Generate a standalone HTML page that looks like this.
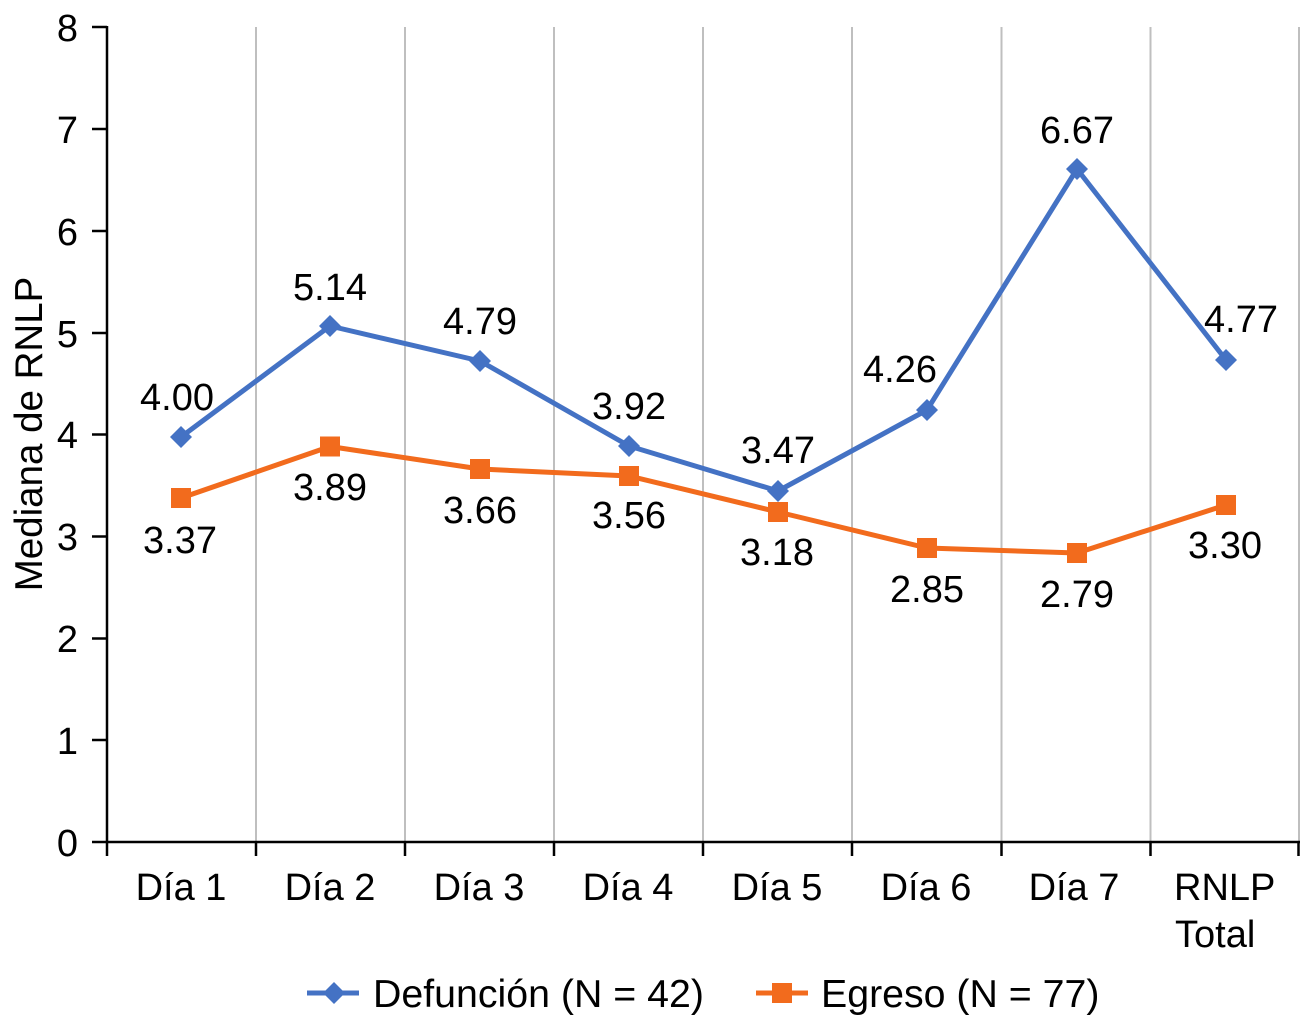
<!DOCTYPE html>
<html><head><meta charset="utf-8"><style>
html,body{margin:0;padding:0;background:#fff;}
svg{display:block;font-family:"Liberation Sans",Arial,Helvetica,sans-serif;}
</style></head><body>
<svg width="1301" height="1024" viewBox="0 0 1301 1024" xmlns="http://www.w3.org/2000/svg">
<rect width="1301" height="1024" fill="#fff"/>
<!-- gridlines -->
<g stroke="#BFBFBF" stroke-width="2">
<line x1="256" y1="27" x2="256" y2="842"/>
<line x1="405" y1="27" x2="405" y2="842"/>
<line x1="554" y1="27" x2="554" y2="842"/>
<line x1="703" y1="27" x2="703" y2="842"/>
<line x1="852" y1="27" x2="852" y2="842"/>
<line x1="1001.5" y1="27" x2="1001.5" y2="842"/>
<line x1="1150.5" y1="27" x2="1150.5" y2="842"/>
<line x1="1299" y1="27" x2="1299" y2="842"/>
</g>
<!-- axes -->
<g stroke="#000" stroke-width="2.5" fill="none">
<line x1="107" y1="26" x2="107" y2="843"/>
<line x1="106" y1="842" x2="1300" y2="842"/>
<line x1="92" y1="27" x2="107" y2="27"/>
<line x1="92" y1="129" x2="107" y2="129"/>
<line x1="92" y1="231" x2="107" y2="231"/>
<line x1="92" y1="333" x2="107" y2="333"/>
<line x1="92" y1="434.5" x2="107" y2="434.5"/>
<line x1="92" y1="536.5" x2="107" y2="536.5"/>
<line x1="92" y1="638.5" x2="107" y2="638.5"/>
<line x1="92" y1="740" x2="107" y2="740"/>
<line x1="92" y1="842" x2="107" y2="842"/>
<line x1="107" y1="842" x2="107" y2="856"/>
<line x1="256" y1="842" x2="256" y2="856"/>
<line x1="405" y1="842" x2="405" y2="856"/>
<line x1="554" y1="842" x2="554" y2="856"/>
<line x1="703" y1="842" x2="703" y2="856"/>
<line x1="852" y1="842" x2="852" y2="856"/>
<line x1="1001.5" y1="842" x2="1001.5" y2="856"/>
<line x1="1150.5" y1="842" x2="1150.5" y2="856"/>
<line x1="1298.5" y1="842" x2="1298.5" y2="856"/>
</g>
<!-- y tick labels -->
<g font-size="38" fill="#000" text-anchor="end">
<text x="78" y="41">8</text>
<text x="78" y="143">7</text>
<text x="78" y="245">6</text>
<text x="78" y="347">5</text>
<text x="78" y="448">4</text>
<text x="78" y="550">3</text>
<text x="78" y="652">2</text>
<text x="78" y="754">1</text>
<text x="78" y="856">0</text>
</g>
<!-- y axis title -->
<text transform="translate(42,434) rotate(-90)" font-size="38.5" text-anchor="middle" fill="#000">Mediana de RNLP</text>
<!-- x labels -->
<g font-size="38" fill="#000" text-anchor="middle">
<text x="181" y="900">Día 1</text>
<text x="330" y="900">Día 2</text>
<text x="479" y="900">Día 3</text>
<text x="628" y="900">Día 4</text>
<text x="777" y="900">Día 5</text>
<text x="926" y="900">Día 6</text>
<text x="1074" y="900">Día 7</text>
</g>
<g font-size="38" fill="#000" text-anchor="start">
<text x="1174" y="900">RNLP</text>
<text x="1175" y="947">Total</text>
</g>
<!-- series Egreso -->
<polyline fill="none" stroke="#F26B1D" stroke-width="5" stroke-linejoin="round" points="181,498 330,446.5 480,469 629,476 778,512 927,548 1077,553 1226,505"/>
<g fill="#F26B1D">
<rect x="171" y="488" width="20" height="20"/>
<rect x="320" y="436.5" width="20" height="20"/>
<rect x="470" y="459" width="20" height="20"/>
<rect x="619" y="466" width="20" height="20"/>
<rect x="768" y="502" width="20" height="20"/>
<rect x="917" y="538" width="20" height="20"/>
<rect x="1067" y="543" width="20" height="20"/>
<rect x="1216" y="495" width="20" height="20"/>
</g>
<!-- series Defuncion -->
<polyline fill="none" stroke="#4472C4" stroke-width="5" stroke-linejoin="round" points="181,437 330,326 480,361 629,446 778,491 927,410 1077,169 1226,360"/>
<g fill="#4472C4">
<polygon points="181,426 192,437 181,448 170,437"/>
<polygon points="330,315 341,326 330,337 319,326"/>
<polygon points="480,350 491,361 480,372 469,361"/>
<polygon points="629,435 640,446 629,457 618,446"/>
<polygon points="778,480 789,491 778,502 767,491"/>
<polygon points="927,399 938,410 927,421 916,410"/>
<polygon points="1077,158 1088,169 1077,180 1066,169"/>
<polygon points="1226,349 1237,360 1226,371 1215,360"/>
</g>
<!-- data labels -->
<g font-size="38" fill="#000" text-anchor="middle">
<text x="177" y="410">4.00</text>
<text x="330" y="300">5.14</text>
<text x="480" y="334">4.79</text>
<text x="629" y="419">3.92</text>
<text x="778" y="463">3.47</text>
<text x="900" y="382">4.26</text>
<text x="1077" y="143">6.67</text>
<text x="1241" y="332">4.77</text>
<text x="180" y="553">3.37</text>
<text x="330" y="500">3.89</text>
<text x="480" y="523">3.66</text>
<text x="629" y="528">3.56</text>
<text x="777" y="565">3.18</text>
<text x="927" y="602">2.85</text>
<text x="1077" y="607">2.79</text>
<text x="1225" y="558">3.30</text>
</g>
<!-- legend -->
<line x1="307" y1="993" x2="359" y2="993" stroke="#4472C4" stroke-width="5"/>
<polygon points="334,982 345,993 334,1004 323,993" fill="#4472C4"/>
<text x="373" y="1007" font-size="39.3" fill="#000">Defunción (N = 42)</text>
<line x1="756" y1="993" x2="808" y2="993" stroke="#F26B1D" stroke-width="5"/>
<rect x="772" y="983" width="20" height="20" fill="#F26B1D"/>
<text x="821" y="1007" font-size="39.3" fill="#000">Egreso (N = 77)</text>
</svg>
</body></html>
